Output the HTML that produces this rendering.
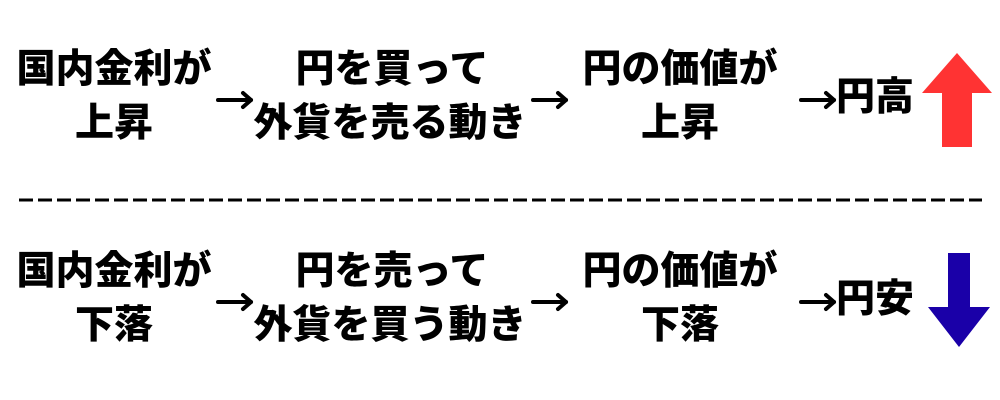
<!DOCTYPE html>
<html><head><meta charset="utf-8"><style>
body{margin:0;width:1000px;height:400px;background:#fff;position:relative;overflow:hidden;font-family:"Liberation Sans","Noto Sans CJK JP",sans-serif;font-weight:900;color:#000}
.t{position:absolute;font-size:39px;line-height:40px;text-align:center;white-space:nowrap;width:300px;margin-left:-150px}
</style></head><body>
<div class="t" style="left:114px;top:50px">国内金利が</div>
<div class="t" style="left:114px;top:104px">上昇</div>
<div class="t" style="left:392px;top:50px">円を買って</div>
<div class="t" style="left:390px;top:104px">外貨を売る動き</div>
<div class="t" style="left:680px;top:50px">円の価値が</div>
<div class="t" style="left:680px;top:104px">上昇</div>
<div class="t" style="left:875px;top:78px">円高</div>

<div class="t" style="left:114px;top:252px">国内金利が</div>
<div class="t" style="left:114px;top:306px">下落</div>
<div class="t" style="left:392px;top:252px">円を売って</div>
<div class="t" style="left:390px;top:306px">外貨を買う動き</div>
<div class="t" style="left:680px;top:252px">円の価値が</div>
<div class="t" style="left:680px;top:306px">下落</div>
<div class="t" style="left:875px;top:280px">円安</div>

<svg width="1000" height="400" style="position:absolute;left:0;top:0">
<defs>
<g id="ar" stroke="#000" stroke-width="4" fill="none" stroke-linecap="round" stroke-linejoin="round">
<line x1="0" y1="0" x2="33" y2="0"/><polyline points="25,-7 33,0 25,7"/>
</g>
</defs>
<use href="#ar" x="218" y="100"/>
<use href="#ar" x="533" y="100"/>
<use href="#ar" x="801" y="100"/>
<use href="#ar" x="218" y="302"/>
<use href="#ar" x="533" y="302"/>
<use href="#ar" x="801" y="302"/>
<line x1="19" y1="200" x2="982" y2="200" stroke="#000" stroke-width="3" stroke-dasharray="14,5"/>
<polygon points="957,53 992,93 972,93 972,147 942,147 942,93 922,93" fill="#ff3333"/>
<polygon points="948,253 970,253 970,307 990,307 959,347 928,307 948,307" fill="#1a00a8"/>
</svg>
</body></html>
